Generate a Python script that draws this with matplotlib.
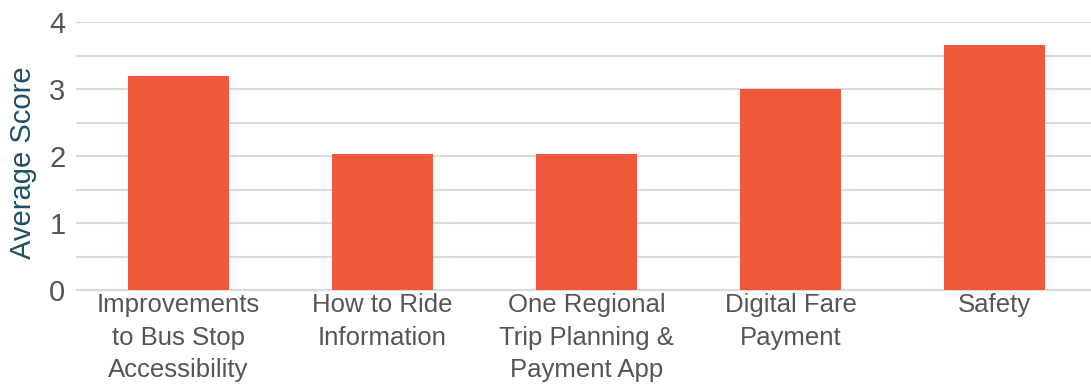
import matplotlib
matplotlib.use("Agg")
from matplotlib import pyplot as plt

categories = [
    "Improvements\nto Bus Stop\nAccessibility",
    "How to Ride\nInformation",
    "One Regional\nTrip Planning &\nPayment App",
    "Digital Fare\nPayment",
    "Safety",
]
scores = [3.19, 2.03, 2.03, 3.0, 3.66]
y_ticks = [0, 1, 2, 3, 4]

BAR_COLOR = "#F1573B"
GRID_COLOR = "#DADADA"
TEXT_COLOR = "#555555"
LABEL_COLOR = "#1E4F63"

plt.rcParams["font.family"] = ["Liberation Sans", "DejaVu Sans"]

fig = plt.figure(figsize=(10.91, 3.86), dpi=100)
ax = fig.add_axes([76.5 / 1091, 96 / 386, 1020 / 1091, 268 / 386])

x = list(range(len(categories)))
ax.bar(x, scores, width=0.495, color=BAR_COLOR, zorder=3)

ax.set_xlim(-0.5, len(categories) - 0.5)
ax.set_ylim(0, 4)
ax.set_yticks(y_ticks)
ax.set_yticks([0.5, 1.5, 2.5, 3.5], minor=True)
ax.grid(axis="y", which="both", color=GRID_COLOR, linewidth=1.5, zorder=0)

for side in ["top", "right", "left"]:
    ax.spines[side].set_visible(False)
ax.spines["bottom"].set_color(GRID_COLOR)
ax.spines["bottom"].set_linewidth(1.5)

ax.tick_params(axis="y", which="both", length=0, pad=8, labelsize=21, labelcolor=TEXT_COLOR)
ax.tick_params(axis="x", length=0, pad=2, labelsize=18.5, labelcolor=TEXT_COLOR)
ax.set_xticks(x)
ax.set_xticklabels(categories, linespacing=1.46)

ax.set_ylabel("Average Score", fontsize=21, color=LABEL_COLOR)
ax.yaxis.set_label_coords(-0.039, 0.474)

fig.savefig("out.png", dpi=100)
